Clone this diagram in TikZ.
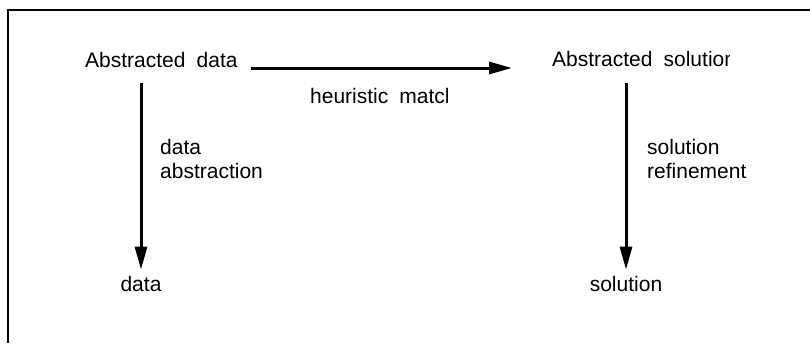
\documentclass[tikz,border=0pt]{standalone}
\usepackage{fontspec}
\setmainfont{Liberation Sans}[WordSpace=1.9]
\usetikzlibrary{arrows.meta}
\begin{document}
\begin{tikzpicture}[x=1pt,y=-1pt,
    lbl/.style={inner sep=0pt,font=\fontsize{21}{24}\selectfont},
    flow/.style={line width=3pt,-{Triangle[length=23pt,width=12pt]}}]
\useasboundingbox (0,0) rectangle (810,343);
\draw[line width=2pt](8,343) |- (810,10);

\node[lbl,anchor=base west] (absdata) at (85,67) {Abstracted data};
\begin{scope}
\clip (0,0) rectangle (729,343);
\node[lbl,anchor=base west] (abssol) at (552,66) {Abstracted solution};
\end{scope}
\node[lbl,anchor=base] (data) at (141,291) {data};
\node[lbl,anchor=base] (sol) at (626,291) {solution};

\draw[flow,shorten <=13pt,shorten >=40pt]([yshift=-1pt]absdata.base east)--([yshift=-2pt]abssol.base west);
\begin{scope}
\clip (0,0) rectangle (447,343);
\node[lbl,anchor=base west] (hmatch) at (310,103) {heuristic match};
\end{scope}

\draw[flow,shorten <=16pt,shorten >=6pt](absdata.south -| data.north)--(data.north);
\node[lbl,align=left,anchor=base west] (dabs) at (160,178) {data\\abstraction};

\draw[flow,shorten <=17pt,shorten >=6pt](abssol.south -| sol.north)--(sol.north);
\node[lbl,align=left,anchor=base west] (sref) at (647,178) {solution\\refinement};

\end{tikzpicture}
\end{document}
